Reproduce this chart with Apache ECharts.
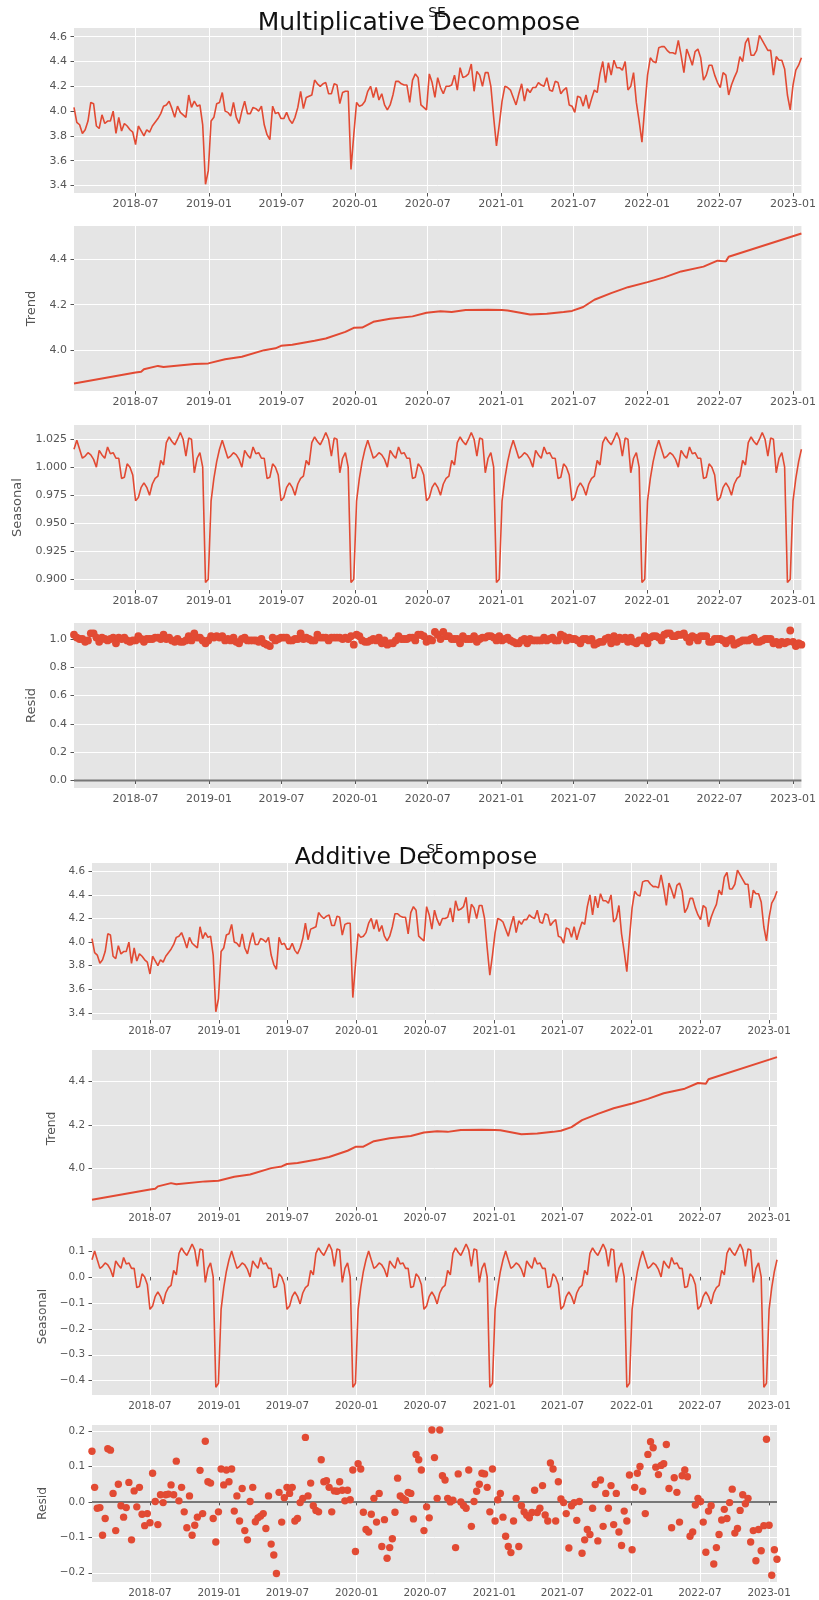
<!DOCTYPE html>
<html><head><meta charset="utf-8">
<script src="https://cdn.jsdelivr.net/npm/echarts@6/dist/echarts.min.js"></script>
<style>html,body{margin:0;padding:0;background:#fff}#c{width:819px;height:1600px}</style>
</head><body><div id="c"></div>
<script>
// ---------------- data ----------------
const startDate = '2018-01-28';   // first weekly observation (weekly series)
const xTickLabels = ['2018-07','2019-01','2019-07','2020-01','2020-07','2021-01','2021-07','2022-01','2022-07','2023-01'];

const observed = [
4.03,3.91,3.89,3.82,3.85,3.92,4.07,4.06,3.88,3.86,
3.97,3.90,3.92,3.92,4.00,3.82,3.95,3.84,3.90,3.88,
3.85,3.83,3.73,3.88,3.84,3.80,3.85,3.83,3.88,3.91,
3.94,3.98,4.04,4.05,4.08,4.02,3.95,4.04,3.99,3.97,
3.95,4.13,4.03,4.08,4.04,4.05,3.89,3.41,3.52,3.92,
3.95,4.06,4.07,4.15,4.00,3.99,3.96,4.07,3.95,3.90,
4.00,4.08,3.98,3.98,4.03,4.02,4.00,4.04,3.89,3.81,
3.77,4.04,3.98,3.99,3.94,3.94,3.99,3.93,3.90,3.95,
4.03,4.16,4.02,4.11,4.12,4.13,4.25,4.22,4.20,4.22,
4.23,4.14,4.14,4.22,4.21,4.06,4.15,4.16,4.16,3.53,
3.81,4.07,4.04,4.05,4.08,4.16,4.20,4.11,4.19,4.09,
4.14,4.05,4.01,4.05,4.13,4.24,4.24,4.22,4.21,4.21,
4.07,4.25,4.30,4.27,4.05,4.03,4.01,4.30,4.23,4.11,
4.27,4.19,4.14,4.20,4.20,4.21,4.29,4.17,4.35,4.27,
4.28,4.30,4.38,4.16,4.32,4.29,4.20,4.31,4.31,4.20,
3.95,3.72,3.89,4.08,4.20,4.19,4.17,4.11,4.05,4.14,
4.22,4.08,4.18,4.15,4.19,4.19,4.23,4.21,4.20,4.27,
4.17,4.16,4.24,4.23,4.14,4.17,4.19,4.05,4.04,3.99,
4.12,4.11,4.04,4.13,4.02,4.10,4.17,4.15,4.30,4.40,
4.23,4.39,4.29,4.41,4.35,4.35,4.33,4.40,4.17,4.20,
4.31,4.07,3.92,3.75,4.03,4.29,4.43,4.40,4.39,4.51,
4.52,4.52,4.49,4.47,4.47,4.46,4.57,4.45,4.31,4.50,
4.44,4.37,4.48,4.50,4.43,4.25,4.29,4.37,4.37,4.29,
4.23,4.19,4.31,4.29,4.13,4.21,4.27,4.32,4.44,4.40,
4.55,4.59,4.45,4.45,4.49,4.61,4.57,4.53,4.49,4.49,
4.29,4.44,4.41,4.41,4.34,4.13,4.01,4.21,4.33,4.37,
4.43];

const trendPoints = [
['2018-01-28',3.855],['2018-07-01',3.903],['2018-07-15',3.906],['2018-07-22',3.917],['2018-08-26',3.932],
['2018-09-09',3.927],['2018-11-25',3.940],['2018-12-30',3.943],['2019-02-10',3.961],['2019-03-24',3.972],
['2019-05-19',4.001],['2019-06-16',4.009],['2019-06-30',4.020],['2019-07-28',4.025],['2019-09-22',4.042],
['2019-10-20',4.052],['2019-12-08',4.081],['2019-12-29',4.099],['2020-01-19',4.100],['2020-02-16',4.125],
['2020-03-29',4.139],['2020-05-24',4.149],['2020-06-28',4.165],['2020-08-02',4.171],['2020-08-30',4.168],
['2020-10-04',4.177],['2020-11-29',4.178],['2021-01-03',4.177],['2021-01-17',4.175],['2021-03-14',4.157],
['2021-04-25',4.161],['2021-06-06',4.168],['2021-06-27',4.173],['2021-07-25',4.190],['2021-08-22',4.222],
['2021-10-03',4.251],['2021-11-14',4.277],['2022-01-02',4.299],['2022-02-13',4.320],['2022-03-27',4.346],
['2022-05-22',4.367],['2022-06-26',4.393],['2022-07-17',4.390],['2022-07-24',4.410],['2023-01-22',4.512]];

const seasonalMult = [
1.016,1.024,1.016,1.008,1.010,1.013,1.011,1.007,1.000,1.015,1.011,1.008,1.018,1.012,1.013,1.008,1.008,0.990,0.991,1.003,1.000,0.993,0.970,0.973,0.982,0.986,0.982,0.975,0.985,0.990,0.992,1.006,1.002,1.022,1.027,1.023,1.020,1.025,1.031,1.025,1.010,1.026,1.025,0.995,1.008,1.013,1.000,0.897,0.900,0.970,0.990,1.005,
1.016,1.024,1.016,1.008,1.010,1.013,1.011,1.007,1.000,1.015,1.011,1.008,1.018,1.012,1.013,1.008,1.008,0.990,0.991,1.003,1.000,0.993,0.970,0.973,0.982,0.986,0.982,0.975,0.985,0.990,0.992,1.006,1.002,1.022,1.027,1.023,1.020,1.025,1.031,1.025,1.010,1.026,1.025,0.995,1.008,1.013,1.000,0.897,0.900,0.970,0.990,1.005,
1.016,1.024,1.016,1.008,1.010,1.013,1.011,1.007,1.000,1.015,1.011,1.008,1.018,1.012,1.013,1.008,1.008,0.990,0.991,1.003,1.000,0.993,0.970,0.973,0.982,0.986,0.982,0.975,0.985,0.990,0.992,1.006,1.002,1.022,1.027,1.023,1.020,1.025,1.031,1.025,1.010,1.026,1.025,0.995,1.008,1.013,1.000,0.897,0.900,0.970,0.990,1.005,
1.016,1.024,1.016,1.008,1.010,1.013,1.011,1.007,1.000,1.015,1.011,1.008,1.018,1.012,1.013,1.008,1.008,0.990,0.991,1.003,1.000,0.993,0.970,0.973,0.982,0.986,0.982,0.975,0.985,0.990,0.992,1.006,1.002,1.022,1.027,1.023,1.020,1.025,1.031,1.025,1.010,1.026,1.025,0.995,1.008,1.013,1.000,0.897,0.900,0.970,0.990,1.005,
1.016,1.024,1.016,1.008,1.010,1.013,1.011,1.007,1.000,1.015,1.011,1.008,1.018,1.012,1.013,1.008,1.008,0.990,0.991,1.003,1.000,0.993,0.970,0.973,0.982,0.986,0.982,0.975,0.985,0.990,0.992,1.006,1.002,1.022,1.027,1.023,1.020,1.025,1.031,1.025,1.010,1.026,1.025,0.995,1.008,1.013,1.000,0.897,0.900,0.970,0.990,1.005,
1.016];

const seasonalAdd = [
0.066,0.100,0.066,0.033,0.041,0.054,0.046,0.029,0.000,0.062,0.046,0.033,0.075,0.050,0.054,0.033,0.033,-0.041,-0.037,0.012,0.000,-0.029,-0.125,-0.112,-0.075,-0.058,-0.075,-0.104,-0.062,-0.041,-0.033,0.025,0.008,0.091,0.112,0.095,0.083,0.104,0.127,0.104,0.041,0.108,0.104,-0.021,0.033,0.054,0.000,-0.425,-0.410,-0.125,-0.041,0.021,
0.066,0.100,0.066,0.033,0.041,0.054,0.046,0.029,0.000,0.062,0.046,0.033,0.075,0.050,0.054,0.033,0.033,-0.041,-0.037,0.012,0.000,-0.029,-0.125,-0.112,-0.075,-0.058,-0.075,-0.104,-0.062,-0.041,-0.033,0.025,0.008,0.091,0.112,0.095,0.083,0.104,0.127,0.104,0.041,0.108,0.104,-0.021,0.033,0.054,0.000,-0.425,-0.410,-0.125,-0.041,0.021,
0.066,0.100,0.066,0.033,0.041,0.054,0.046,0.029,0.000,0.062,0.046,0.033,0.075,0.050,0.054,0.033,0.033,-0.041,-0.037,0.012,0.000,-0.029,-0.125,-0.112,-0.075,-0.058,-0.075,-0.104,-0.062,-0.041,-0.033,0.025,0.008,0.091,0.112,0.095,0.083,0.104,0.127,0.104,0.041,0.108,0.104,-0.021,0.033,0.054,0.000,-0.425,-0.410,-0.125,-0.041,0.021,
0.066,0.100,0.066,0.033,0.041,0.054,0.046,0.029,0.000,0.062,0.046,0.033,0.075,0.050,0.054,0.033,0.033,-0.041,-0.037,0.012,0.000,-0.029,-0.125,-0.112,-0.075,-0.058,-0.075,-0.104,-0.062,-0.041,-0.033,0.025,0.008,0.091,0.112,0.095,0.083,0.104,0.127,0.104,0.041,0.108,0.104,-0.021,0.033,0.054,0.000,-0.425,-0.410,-0.125,-0.041,0.021,
0.066,0.100,0.066,0.033,0.041,0.054,0.046,0.029,0.000,0.062,0.046,0.033,0.075,0.050,0.054,0.033,0.033,-0.041,-0.037,0.012,0.000,-0.029,-0.125,-0.112,-0.075,-0.058,-0.075,-0.104,-0.062,-0.041,-0.033,0.025,0.008,0.091,0.112,0.095,0.083,0.104,0.127,0.104,0.041,0.108,0.104,-0.021,0.033,0.054,0.000,-0.425,-0.410,-0.125,-0.041,0.021,
0.066];

const residAdd = [
0.143,0.041,-0.018,-0.016,-0.094,-0.047,0.150,0.146,0.024,-0.081,
0.050,-0.011,-0.043,-0.016,0.055,-0.107,0.031,-0.014,0.041,-0.035,
-0.067,-0.033,-0.059,0.081,0.001,-0.064,0.020,-0.002,0.020,0.022,
0.048,0.020,0.115,0.003,0.041,-0.028,-0.073,0.017,-0.094,-0.066,
-0.043,0.089,-0.033,0.171,0.057,0.053,-0.047,-0.113,-0.028,0.093,
0.048,0.090,0.057,0.093,-0.026,0.017,-0.054,0.038,-0.081,-0.107,
0.001,0.041,-0.056,-0.045,-0.040,-0.033,-0.075,0.017,-0.119,-0.150,
-0.202,0.027,-0.057,0.012,0.041,0.024,0.041,-0.054,-0.047,-0.002,
0.010,0.182,0.017,0.053,-0.011,-0.024,-0.028,0.119,0.057,0.060,
0.041,-0.028,0.031,0.030,0.057,0.033,0.003,0.033,0.006,0.090,
-0.140,0.108,0.093,-0.029,-0.078,-0.085,-0.035,0.010,-0.057,0.024,
-0.126,-0.050,-0.159,-0.129,-0.104,-0.029,0.067,0.017,0.010,0.005,
0.027,0.024,-0.048,0.134,0.119,0.090,-0.081,-0.014,-0.045,0.203,
0.125,0.010,0.203,0.074,0.062,0.010,0.000,0.005,-0.129,0.079,
0.000,-0.010,-0.018,0.090,-0.069,0.001,0.030,0.050,0.081,0.079,
0.041,-0.028,0.093,-0.054,0.006,0.024,-0.043,-0.097,-0.126,-0.143,
-0.054,0.010,-0.126,-0.011,-0.028,-0.038,-0.045,-0.030,0.033,-0.030,
-0.018,0.046,-0.037,-0.054,0.110,0.093,-0.054,0.057,0.008,-0.002,
-0.033,-0.130,-0.011,-0.002,-0.052,0.001,-0.145,-0.107,-0.078,-0.092,
-0.018,0.049,-0.110,0.062,-0.069,0.024,-0.018,0.046,-0.064,0.024,
-0.085,-0.123,-0.026,-0.054,0.076,-0.135,0.041,0.081,0.100,0.030,
-0.033,0.134,0.170,0.153,0.098,0.077,0.103,0.108,0.162,0.038,
-0.073,0.068,0.027,-0.057,0.074,0.090,0.071,-0.097,-0.085,-0.009,
0.010,0.001,-0.057,-0.142,-0.026,-0.011,-0.175,-0.129,-0.092,-0.051,
-0.021,-0.047,-0.002,0.036,-0.088,-0.075,-0.024,0.020,-0.005,0.010,
-0.113,-0.081,-0.166,-0.078,-0.138,-0.067,0.177,-0.066,-0.207,-0.135,
-0.162];

const residMult = [
1.03,1.01,1.00,1.00,0.98,0.99,1.04,1.04,1.01,0.98,
1.01,1.00,0.99,1.00,1.01,0.97,1.01,1.00,1.01,0.99,
0.98,0.99,0.99,1.02,1.00,0.98,1.00,1.00,1.00,1.01,
1.01,1.00,1.03,1.00,1.01,0.99,0.98,1.00,0.98,0.98,
0.99,1.02,0.99,1.04,1.01,1.01,0.99,0.97,0.99,1.02,
1.01,1.02,1.01,1.02,0.99,1.00,0.99,1.01,0.98,0.97,
1.00,1.01,0.99,0.99,0.99,0.99,0.98,1.00,0.97,0.96,
0.95,1.01,0.99,1.00,1.01,1.01,1.01,0.99,0.99,1.00,
1.00,1.04,1.00,1.01,1.00,0.99,0.99,1.03,1.01,1.01,
1.01,0.99,1.01,1.01,1.01,1.01,1.00,1.01,1.00,1.02,
0.96,1.03,1.02,0.99,0.98,0.98,0.99,1.00,0.99,1.01,
0.97,0.99,0.96,0.97,0.97,0.99,1.02,1.00,1.00,1.00,
1.01,1.01,0.99,1.03,1.03,1.02,0.98,1.00,0.99,1.05,
1.03,1.00,1.05,1.02,1.02,1.00,1.00,1.00,0.97,1.02,
1.00,1.00,1.00,1.02,0.98,1.00,1.01,1.01,1.02,1.02,
1.01,0.99,1.02,0.99,1.00,1.01,0.99,0.98,0.97,0.97,
0.99,1.00,0.97,1.00,0.99,0.99,0.99,0.99,1.01,0.99,
1.00,1.01,0.99,0.99,1.03,1.02,0.99,1.01,1.00,1.00,
0.99,0.97,1.00,1.00,0.99,1.00,0.96,0.97,0.98,0.98,
1.00,1.01,0.97,1.02,0.98,1.01,1.00,1.01,0.98,1.01,
0.98,0.97,0.99,0.99,1.02,0.97,1.01,1.02,1.02,1.01,
0.99,1.03,1.04,1.04,1.02,1.02,1.03,1.03,1.04,1.01,
0.98,1.02,1.01,0.99,1.02,1.02,1.02,0.98,0.98,1.00,
1.00,1.00,0.99,0.97,0.99,1.00,0.96,0.97,0.98,0.99,
0.99,0.99,1.00,1.01,0.98,0.98,0.99,1.00,1.00,1.00,
0.97,0.98,0.96,0.98,0.97,0.98,1.06,0.98,0.95,0.97,
0.96];

const obsTicks = [3.4,3.6,3.8,4.0,4.2,4.4,4.6];
const trendTicks = [4.0,4.2,4.4];
const seasMultTicks = [0.900,0.925,0.950,0.975,1.000,1.025];
const residMultTicks = [0.0,0.2,0.4,0.6,0.8,1.0];
const seasAddTicks = [-0.4,-0.3,-0.2,-0.1,0.0,0.1];
const residAddTicks = [-0.2,-0.1,0.0,0.1,0.2];

// ---------------- build ----------------
const DAY = 86400000;
const t0 = Date.parse(startDate + 'T00:00:00Z');
const dates = observed.map((_, i) => t0 + i * 7 * DAY);
const tEnd = dates[dates.length - 1];
const xTickVals = xTickLabels.map(s => Date.parse(s + '-01T00:00:00Z'));
const pair = arr => arr.map((v, i) => [dates[i], v]);
const trendData = trendPoints.map(p => [Date.parse(p[0] + 'T00:00:00Z'), p[1]]);

const FONT = 'DejaVu Sans';
const RED = '#E24A33';
const fmtNum = dec => v => { const s = Math.abs(v).toFixed(dec); return (v < -1e-9 ? '\u2212' : '') + s; };
const fmtDate = v => { const d = new Date(v); return d.getUTCFullYear() + '-' + String(d.getUTCMonth() + 1).padStart(2, '0'); };

const figs = [
  { left: 74, width: 729, tops: [28, 226, 425, 623], h: 165, tick: 11, nameFs: 13, gaps: [0, 34, 34, 34] },
  { left: 92, width: 685, tops: [863, 1050, 1238, 1425], h: 157, tick: 10.4, nameFs: 12.3, gaps: [0, 33, 40, 40] }
];
const panels = [
  [0, 0, 3.34, 4.67, obsTicks, 1, ''],
  [0, 1, 3.822, 4.545, trendTicks, 1, 'Trend'],
  [0, 2, 0.8903, 1.0377, seasMultTicks, 3, 'Seasonal'],
  [0, 3, -0.053, 1.113, residMultTicks, 1, 'Resid'],
  [1, 0, 3.34, 4.67, obsTicks, 1, ''],
  [1, 1, 3.822, 4.545, trendTicks, 1, 'Trend'],
  [1, 2, -0.455, 0.150, seasAddTicks, 1, 'Seasonal'],
  [1, 3, -0.226, 0.217, residAddTicks, 1, 'Resid']
];

const grid = [], xAxis = [], yAxis = [];
panels.forEach((p, gi) => {
  const f = figs[p[0]];
  grid.push({ left: f.left, width: f.width, top: f.tops[p[1]], height: f.h, show: true,
    backgroundColor: '#E5E5E5', borderWidth: 0 });
  xAxis.push({ type: 'value', gridIndex: gi, min: t0, max: tEnd, scale: true,
    axisLine: { show: false },
    axisTick: { show: true, length: 3.5, lineStyle: { color: '#555' }, customValues: xTickVals },
    axisLabel: { customValues: xTickVals, formatter: fmtDate, color: '#555', fontSize: f.tick, fontFamily: FONT, margin: 6, hideOverlap: false },
    splitLine: { show: true, lineStyle: { color: '#fff', width: 1 } } });
  yAxis.push({ type: 'value', gridIndex: gi, min: p[2], max: p[3], scale: true,
    axisLine: { show: false },
    axisTick: { show: true, length: 3.5, lineStyle: { color: '#555' }, customValues: p[4] },
    axisLabel: { customValues: p[4], formatter: fmtNum(p[5]), color: '#555', fontSize: f.tick, fontFamily: FONT, margin: 7 },
    splitLine: { show: true, lineStyle: { color: '#fff', width: 1 } },
    name: p[6], nameLocation: 'middle', nameRotate: 90, nameGap: f.gaps[p[1]],
    nameTextStyle: { color: '#555', fontSize: f.nameFs, fontFamily: FONT } });
});

const lineS = (gi, data, w) => ({ type: 'line', xAxisIndex: gi, yAxisIndex: gi, data, showSymbol: false,
  lineStyle: { color: RED, width: w || 1.6 }, itemStyle: { color: RED }, z: 3, silent: true });
const zeroS = gi => ({ type: 'line', xAxisIndex: gi, yAxisIndex: gi, data: [[t0, 0], [tEnd, 0]], showSymbol: false,
  lineStyle: { color: '#777', width: 2 }, z: 2, silent: true });
const dotS = (gi, data, s) => ({ type: 'scatter', xAxisIndex: gi, yAxisIndex: gi, data, symbolSize: s,
  itemStyle: { color: RED, opacity: 1 }, z: 4, silent: true });

const series = [
  lineS(0, pair(observed)), lineS(1, trendData, 2), lineS(2, pair(seasonalMult)), zeroS(3), dotS(3, pair(residMult), 7.8),
  lineS(4, pair(observed)), lineS(5, trendData, 2), lineS(6, pair(seasonalAdd)), zeroS(7), dotS(7, pair(residAdd), 7.4)
];

const txt = (text, x, y, size) => ({ type: 'text', x, y, z: 10,
  style: { text, fill: '#111', fontSize: size, fontFamily: FONT, textAlign: 'center', textVerticalAlign: 'middle' } });

const chart = echarts.init(document.getElementById('c'), null, { renderer: 'canvas', width: 819, height: 1600 });
chart.setOption({
  animation: false,
  backgroundColor: '#fff',
  grid, xAxis, yAxis, series,
  graphic: [
    txt('Multiplicative Decompose', 419, 23, 25),
    txt('SE', 437, 13, 14),
    txt('Additive Decompose', 416, 858, 23.5),
    txt('SE', 435, 850, 13)
  ]
});
</script></body></html>
